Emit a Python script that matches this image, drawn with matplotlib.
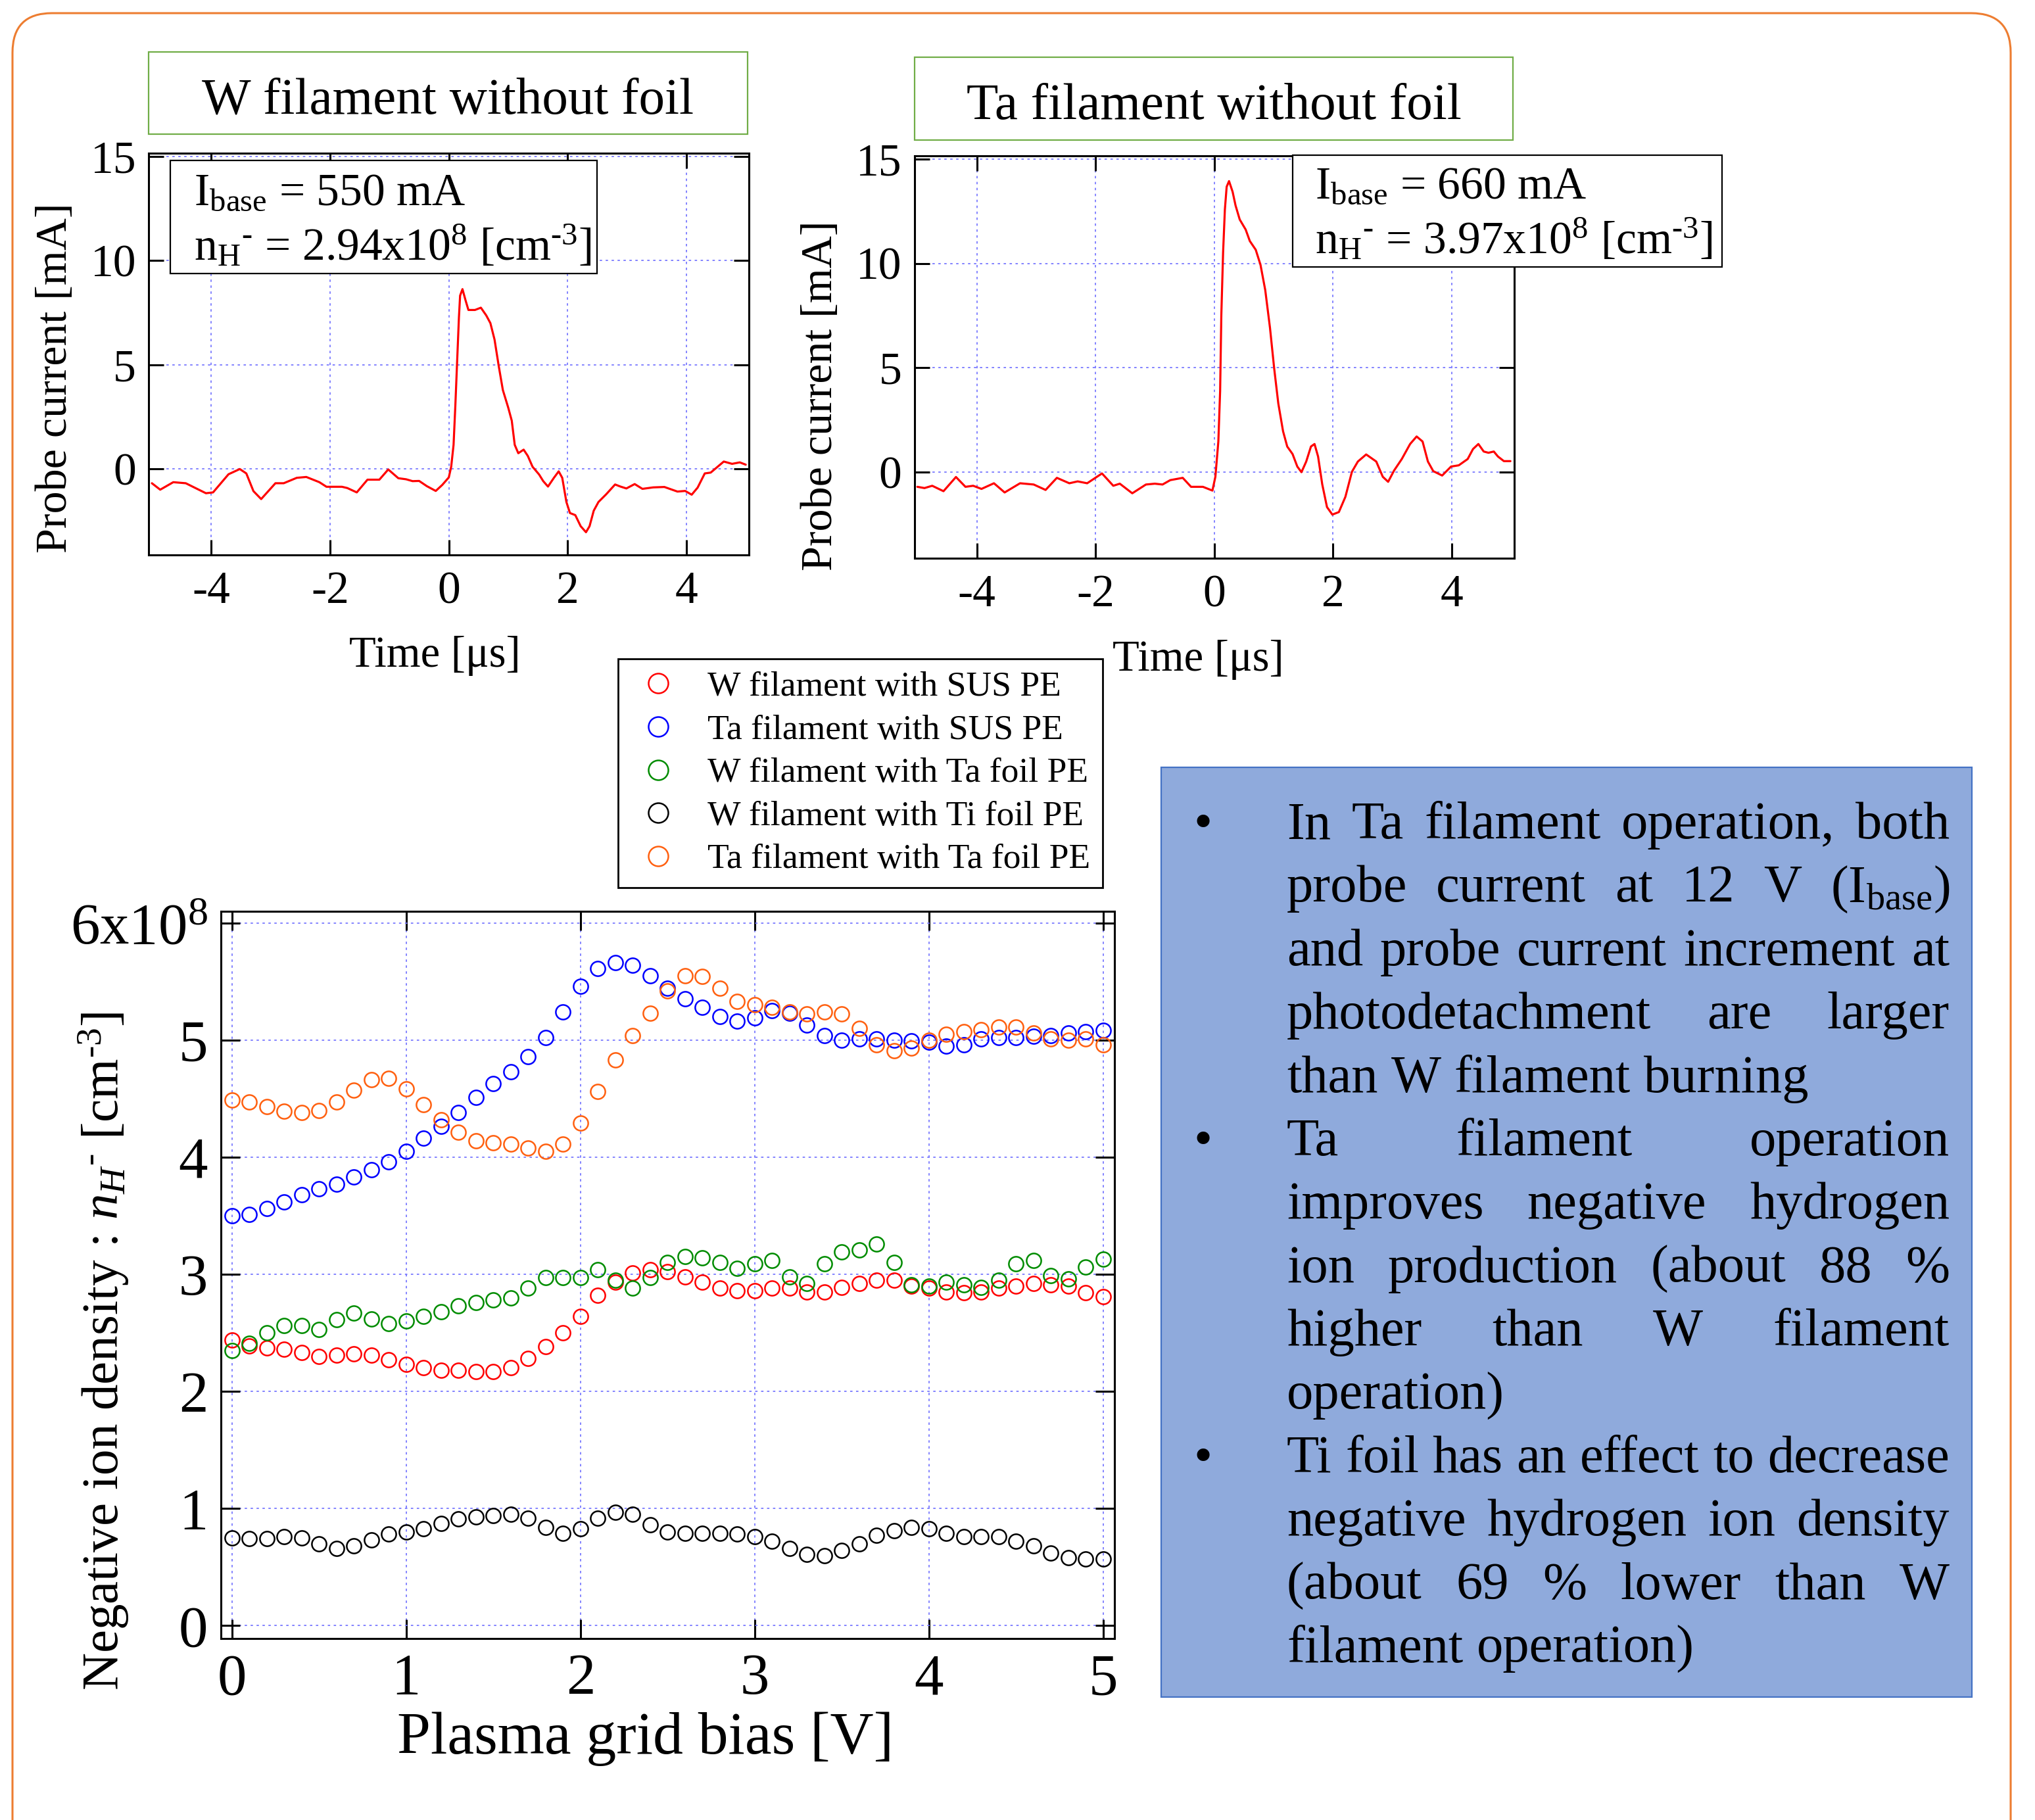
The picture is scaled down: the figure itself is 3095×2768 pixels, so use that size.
import matplotlib
matplotlib.use('Agg')
import matplotlib.pyplot as plt
from matplotlib.patches import Rectangle, FancyBboxPatch
from matplotlib.ticker import FixedLocator, MultipleLocator

W, H = 3095, 2768

# probe current after laser shot, W filament (time in us, current in mA)
w_time = [-5.0, -4.86, -4.64, -4.43, -4.31, -4.09, -3.97, -3.71, -3.52, -3.41, -3.29, -3.16,
          -2.92, -2.78, -2.56, -2.40, -2.18, -2.06, -1.80, -1.71, -1.55,
          -1.37, -1.17, -1.02, -0.85, -0.72, -0.61, -0.50, -0.37, -0.22, -0.11, 0.0, 0.04, 0.08,
          0.11, 0.14, 0.17, 0.19, 0.23, 0.28, 0.33, 0.44, 0.54, 0.63, 0.70, 0.77, 0.84, 0.91,
          1.00, 1.06, 1.11, 1.17, 1.26, 1.33, 1.41, 1.52, 1.59, 1.67, 1.77, 1.85, 1.91, 1.98,
          2.04, 2.13, 2.22, 2.31, 2.37, 2.44, 2.52, 2.65, 2.80, 2.89, 2.99, 3.13, 3.26, 3.44,
          3.63, 3.85, 3.98, 4.09, 4.19, 4.31, 4.41, 4.63, 4.77, 4.90, 5.00]
w_current = [-0.68, -0.99, -0.63, -0.68, -0.85, -1.16, -1.12, -0.25, 0.0, -0.21, -1.06, -1.44,
             -0.68, -0.68, -0.42, -0.38, -0.63, -0.85, -0.85, -0.91, -1.12,
             -0.51, -0.51, -0.02, -0.44, -0.49, -0.58, -0.57, -0.82, -1.05, -0.76, -0.40, 0.11, 1.16,
             3.05, 5.16, 7.26, 8.32, 8.63, 8.11, 7.63, 7.63, 7.74, 7.37, 7.00, 6.21, 4.95, 3.79,
             2.95, 2.32, 1.16, 0.76, 0.93, 0.63, 0.11, -0.26, -0.58, -0.84, -0.42, -0.11, -0.42, -1.58,
             -2.11, -2.21, -2.74, -3.03, -2.74, -2.00, -1.58, -1.21, -0.74, -0.84, -0.93, -0.72, -0.95, -0.88,
             -0.86, -1.08, -1.05, -1.23, -0.89, -0.21, -0.17, 0.36, 0.25, 0.32, 0.21]

# probe current, Ta filament
ta_time = [-5.0, -4.88, -4.75, -4.56, -4.35, -4.19, -4.06, -3.92, -3.71, -3.53, -3.27, -3.04,
           -2.84, -2.65, -2.44, -2.30, -2.14, -1.89, -1.70, -1.59, -1.38, -1.15, -1.00, -0.87,
           -0.74, -0.53, -0.39, -0.19, -0.03, 0.02, 0.07, 0.10, 0.12, 0.15, 0.18, 0.21, 0.25,
           0.31, 0.36, 0.43, 0.53, 0.60, 0.70, 0.78, 0.86, 0.94, 1.01, 1.08, 1.16, 1.23, 1.32,
           1.40, 1.47, 1.55, 1.63, 1.69, 1.75, 1.82, 1.90, 1.99, 2.10, 2.21, 2.32, 2.42, 2.56,
           2.73, 2.84, 2.93, 3.03, 3.16, 3.30, 3.41, 3.51, 3.60, 3.69, 3.84, 3.99, 4.12, 4.27,
           4.36, 4.45, 4.54, 4.62, 4.71, 4.78, 4.88, 4.99]
ta_current = [-0.70, -0.76, -0.65, -0.91, -0.23, -0.70, -0.65, -0.80, -0.53, -0.97, -0.53, -0.59,
              -0.85, -0.27, -0.53, -0.44, -0.53, -0.06, -0.65, -0.55, -1.01, -0.59, -0.55, -0.59,
              -0.38, -0.27, -0.70, -0.70, -0.88, -0.22, 1.47, 3.89, 7.51, 10.53, 12.58, 13.67, 13.94,
              13.43, 12.77, 12.10, 11.62, 11.07, 10.65, 9.93, 8.72, 6.91, 4.98, 3.29, 1.96, 1.23, 0.87,
              0.27, 0.0, 0.51, 1.23, 1.35, 0.75, -0.58, -1.67, -2.03, -1.91, -1.18, 0.02, 0.51, 0.85,
              0.51, -0.22, -0.46, 0.08, 0.63, 1.35, 1.71, 1.47, 0.51, 0.05, -0.16, 0.27, 0.33, 0.63,
              1.11, 1.35, 0.99, 0.93, 0.99, 0.75, 0.53, 0.53]

# negative ion density (x1e8 cm^-3) vs plasma grid bias (V)
bias = [0.0, 0.1, 0.2, 0.3, 0.4, 0.5, 0.6, 0.7, 0.8, 0.9,
        1.0, 1.1, 1.2, 1.3, 1.4, 1.5, 1.6, 1.7, 1.8, 1.9,
        2.0, 2.1, 2.2, 2.3, 2.4, 2.5, 2.6, 2.7, 2.8, 2.9,
        3.0, 3.1, 3.2, 3.3, 3.4, 3.5, 3.6, 3.7, 3.8, 3.9,
        4.0, 4.1, 4.2, 4.3, 4.4, 4.5, 4.6, 4.7, 4.8, 4.9, 5.0]
w_sus = [2.44, 2.39, 2.37, 2.36, 2.33, 2.30, 2.31, 2.32, 2.31, 2.27,
         2.23, 2.20, 2.18, 2.18, 2.17, 2.17, 2.20, 2.28, 2.38, 2.50,
         2.64, 2.82, 2.93, 3.01, 3.04, 3.02, 2.98, 2.93, 2.88, 2.86,
         2.86, 2.88, 2.88, 2.85, 2.85, 2.89, 2.92, 2.95, 2.95, 2.90,
         2.88, 2.85, 2.84, 2.85, 2.88, 2.90, 2.92, 2.91, 2.90, 2.84, 2.81]
ta_sus = [3.50, 3.51, 3.56, 3.62, 3.68, 3.73, 3.77, 3.83, 3.89, 3.96,
          4.05, 4.16, 4.26, 4.38, 4.51, 4.63, 4.73, 4.86, 5.02, 5.24,
          5.46, 5.61, 5.66, 5.64, 5.55, 5.44, 5.35, 5.28, 5.20, 5.16,
          5.19, 5.25, 5.23, 5.13, 5.04, 5.00, 5.01, 5.01, 5.00, 4.99,
          4.98, 4.95, 4.96, 5.01, 5.02, 5.02, 5.03, 5.04, 5.06, 5.07, 5.08]
w_ta_foil = [2.35, 2.41, 2.50, 2.56, 2.56, 2.53, 2.61, 2.67, 2.62, 2.58,
             2.60, 2.64, 2.68, 2.73, 2.76, 2.78, 2.80, 2.88, 2.97, 2.97,
             2.97, 3.04, 2.95, 2.88, 2.97, 3.10, 3.15, 3.14, 3.10, 3.05,
             3.09, 3.12, 2.98, 2.92, 3.09, 3.19, 3.21, 3.26, 3.10, 2.91,
             2.90, 2.93, 2.91, 2.89, 2.95, 3.09, 3.12, 2.99, 2.96, 3.06, 3.13]
w_ti_foil = [0.75, 0.745, 0.745, 0.76, 0.75, 0.70, 0.66, 0.68, 0.73, 0.78,
             0.80, 0.83, 0.87, 0.91, 0.93, 0.94, 0.95, 0.92, 0.84, 0.79,
             0.83, 0.92, 0.97, 0.95, 0.86, 0.80, 0.79, 0.79, 0.79, 0.78,
             0.76, 0.72, 0.66, 0.61, 0.60, 0.64, 0.70, 0.77, 0.81, 0.84,
             0.83, 0.79, 0.76, 0.76, 0.76, 0.72, 0.68, 0.62, 0.58, 0.57, 0.57]
ta_ta_foil = [4.49, 4.47, 4.43, 4.39, 4.38, 4.40, 4.47, 4.57, 4.66, 4.67,
              4.58, 4.45, 4.32, 4.21, 4.14, 4.12, 4.11, 4.08, 4.05, 4.11,
              4.29, 4.56, 4.83, 5.04, 5.23, 5.42, 5.55, 5.54, 5.44, 5.33,
              5.30, 5.28, 5.24, 5.22, 5.24, 5.22, 5.10, 4.96, 4.91, 4.93,
              5.00, 5.05, 5.07, 5.09, 5.11, 5.11, 5.06, 5.01, 5.00, 5.01, 4.96]

series_labels = ['W filament with SUS PE', 'Ta filament with SUS PE', 'W filament with Ta foil PE',
                 'W filament with Ti foil PE', 'Ta filament with Ta foil PE']
series_colors = ['#ff0000', '#0000ff', '#008c00', '#000000', '#ff6010']
density_ticks = ['0', '1', '2', '3', '4', '5', r'6x10$^{8}$']

# summary text box: (line, justified, bullet)
box_lines = [
    ('In Ta filament operation, both', True, True),
    (r'probe current at 12 V (I$_{\mathrm{base}}$)', True, False),
    ('and probe current increment at', True, False),
    ('photodetachment are larger', True, False),
    ('than W filament burning', False, False),
    ('Ta filament operation', True, True),
    ('improves negative hydrogen', True, False),
    ('ion production (about 88 %', True, False),
    ('higher than W filament', True, False),
    ('operation)', False, False),
    ('Ti foil has an effect to decrease', True, True),
    ('negative hydrogen ion density', True, False),
    ('(about 69 % lower than W', True, False),
    ('filament operation)', False, False),
]

plt.rcParams['font.family'] = ['Liberation Serif', 'DejaVu Serif']
plt.rcParams['mathtext.fontset'] = 'custom'
plt.rcParams['mathtext.rm'] = 'Liberation Serif'
plt.rcParams['mathtext.it'] = 'Liberation Serif:italic'
plt.rcParams['axes.unicode_minus'] = False

fig = plt.figure(figsize=(W / 100, H / 100), dpi=100)


def frect(x0, y0, x1, y1):
    # pixel box measured from the top-left corner -> figure fraction
    return [x0 / W, 1 - y1 / H, (x1 - x0) / W, (y1 - y0) / H]


def fig_box(x0, y0, x1, y1, face, edge, lw):
    r = frect(x0, y0, x1, y1)
    fig.add_artist(Rectangle((r[0], r[1]), r[2], r[3], transform=fig.transFigure,
                             facecolor=face, edgecolor=edge, linewidth=lw, zorder=2))


def style_axes(ax, tick_len, labelsize, pad):
    ax.tick_params(which='both', direction='in', top=True, right=True, length=tick_len,
                   width=2.2, labelsize=labelsize, pad=pad)
    for s in ax.spines.values():
        s.set_linewidth(2.2)
    ax.grid(True, color='#7878ff', linestyle=(0, (2, 3)), linewidth=1.3)
    ax.set_axisbelow(True)


border = FancyBboxPatch((0.19, -1.0), 30.39, 28.48, boxstyle='round,pad=0,rounding_size=0.6',
                        transform=fig.dpi_scale_trans, fill=False, edgecolor='#ED7D31', linewidth=2.2)
fig.add_artist(border)

# ---- probe current panels ----
panels = [
    ((226.5, 233, 1138.7, 844), w_time, w_current, 'W filament without foil', (226, 79, 1137, 204),
     (259, 244, 908, 416), (295, 311, 395), '550', '2.94', (0.44, 0.477)),
    ((1390.7, 237, 2302.6, 849), ta_time, ta_current, 'Ta filament without foil', (1391, 87, 2301, 213),
     (1966, 236, 2619, 406), (2000, 301, 385), '660', '3.97', (0.404, 0.473)),
]
for rect, t, cur, title, tbox, nbox, npos, ibase, dens, lab in panels:
    ax = fig.add_axes(frect(*rect))
    ax.plot(t, cur, color='red', linewidth=2.3, solid_joinstyle='round', solid_capstyle='round')
    ax.set_xlim(-5.05, 5.05)
    ax.set_ylim(-4.12, 15.15)
    ax.xaxis.set_major_locator(MultipleLocator(2))
    ax.yaxis.set_major_locator(MultipleLocator(5))
    style_axes(ax, 16.5, 50, 14)
    ax.tick_params(axis='x', pad=18)
    ax.set_xlabel(r'Time [μs]', fontsize=48, va='center')
    ax.xaxis.set_label_coords(lab[1], -0.252)
    ax.set_ylabel('Probe current [mA]', fontsize=49, va='center')
    ax.yaxis.set_label_coords(-0.156, lab[0])

    fig_box(*tbox, 'white', '#70AD47', 1.6)
    fig.text((tbox[0] + tbox[2]) / 2 / W, 1 - (tbox[1] + 0.75 * (tbox[3] - tbox[1])) / H, title,
             fontsize=57, ha='center', va='baseline', zorder=3)
    fig_box(*nbox, 'white', 'black', 1.6)
    fig.text(npos[0] / W, 1 - npos[1] / H, r'I$_{\mathrm{base}}$ = ' + ibase + ' mA',
             fontsize=50, va='baseline', zorder=3)
    fig.text(npos[0] / W, 1 - npos[2] / H,
             r'$\mathrm{n_H{}^{\text{-}}}$ = ' + dens + r'x10$^{8}$ [cm$^{\text{-}3}$]',
             fontsize=50, va='baseline', zorder=3)

# ---- negative ion density vs bias ----
ax3 = fig.add_axes(frect(335.6, 1385.7, 1695.2, 2492))
for vals, lbl, col in zip([w_sus, ta_sus, w_ta_foil, w_ti_foil, ta_ta_foil], series_labels, series_colors):
    ax3.plot(bias, vals, linestyle='none', marker='o', markersize=16, markerfacecolor='none',
             markeredgecolor=col, markeredgewidth=1.8, label=lbl)
ax3.set_xlim(-0.065, 5.065)
ax3.set_ylim(-0.11, 6.1)
ax3.xaxis.set_major_locator(MultipleLocator(1))
ax3.yaxis.set_major_locator(FixedLocator(range(7)))
ax3.set_yticklabels(density_ticks)
style_axes(ax3, 21, 64, 14)
ax3.tick_params(axis='x', pad=16)
ax3.set_xlabel('Plasma grid bias [V]', fontsize=66, va='center')
ax3.xaxis.set_label_coords(0.475, -0.138)
ax3.set_ylabel(r'Negative ion density : $n_H{}^{\text{-}}$ [cm$^{\text{-}3}$]', fontsize=57, va='center')
ax3.yaxis.set_label_coords(-0.131, 0.395)

leg = ax3.legend(loc='upper left', bbox_to_anchor=(940 / W, 1 - 1002 / H), bbox_transform=fig.transFigure,
                 frameon=True, fancybox=False, edgecolor='black', framealpha=1, fontsize=38.5,
                 markerscale=1.35, handlelength=1.6, handletextpad=0.6, labelspacing=0.32,
                 borderpad=0.35, borderaxespad=0)
leg.get_frame().set_linewidth(2.0)

# ---- summary text box ----
fig_box(1766, 1167, 2999, 2581, '#8FAADC', '#4472C4', 1.6)
renderer = fig.canvas.get_renderer()
x_left, x_right = 1957, 2965
for i, (line, justify, bullet) in enumerate(box_lines):
    y = 1 - (1275 + 96.4 * i) / H
    if bullet:
        fig.text(1815 / W, y, '•', fontsize=58, va='baseline', zorder=3)
    words = line.split(' ')
    texts = [fig.text(0, y, w, fontsize=58, va='baseline', zorder=3) for w in words]
    widths = [tx.get_window_extent(renderer).width for tx in texts]
    if justify and len(words) > 1:
        gap = (x_right - x_left - sum(widths)) / (len(words) - 1)
    else:
        gap = 58 * 100 / 72 * 0.25
    x = x_left
    for tx, wd in zip(texts, widths):
        tx.set_x(x / W)
        x += wd + gap

fig.savefig('out.png', dpi=100)
